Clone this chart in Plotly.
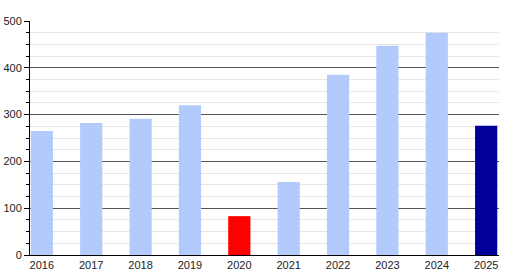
import plotly.graph_objects as go

years = ["2016", "2017", "2018", "2019", "2020", "2021", "2022", "2023", "2024", "2025"]
values = [265, 282, 291, 320, 83, 156, 385, 447, 475, 276]
colors = ["#b3cbfc"] * 4 + ["#ff0000"] + ["#b3cbfc"] * 4 + ["#000099"]
y_ticks = [0, 100, 200, 300, 400, 500]

fig = go.Figure(go.Bar(x=list(range(len(years))), y=values, marker=dict(color=colors, line=dict(width=0)), width=0.45))

fig.update_layout(
    width=513, height=275,
    margin=dict(l=30, r=14, t=21, b=20),
    plot_bgcolor="white", paper_bgcolor="white",
    showlegend=False,
    font=dict(family="Liberation Sans, Arial, sans-serif", size=11, color="#222"),
)
fig.update_xaxes(
    tickmode="array", tickvals=list(range(len(years))), ticktext=years,
    range=[-0.24, 9.26], showline=True, linecolor="black", linewidth=1,
    showgrid=False, ticks="", ticklen=0, zeroline=False, automargin=False,
)
fig.update_yaxes(
    range=[0, 500], tickvals=y_ticks, showline=True, linecolor="black", linewidth=1,
    ticks="outside", ticklen=5, tickcolor="black", showgrid=True, gridcolor="#555", gridwidth=1,
    zeroline=False, automargin=False, ticklabelstandoff=0,
    minor=dict(dtick=25, showgrid=True, gridcolor="#e6e6e6", ticks="outside", ticklen=3, tickcolor="black"),
)
fig.write_html("out.html")
